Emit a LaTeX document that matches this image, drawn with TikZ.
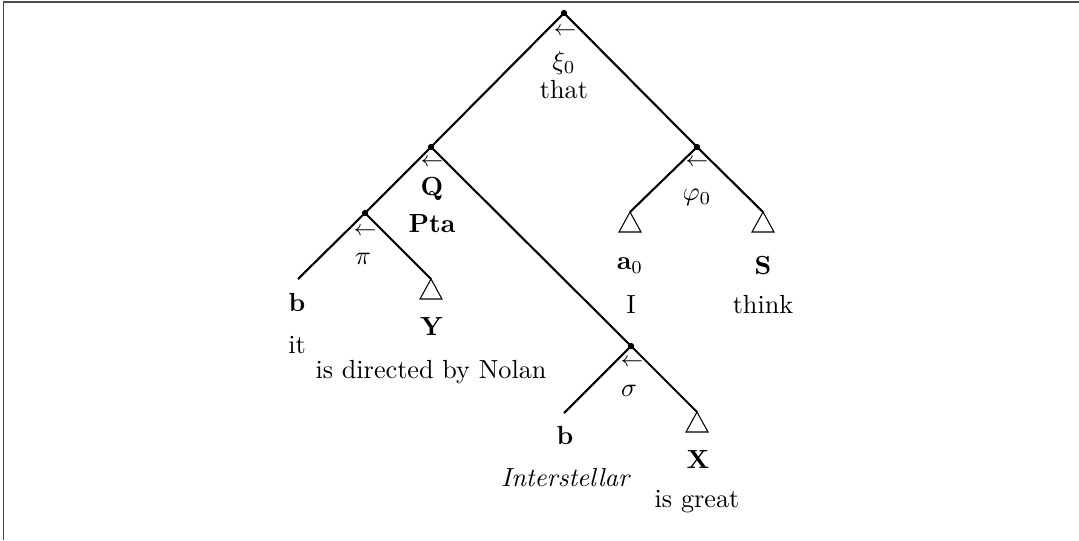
\documentclass[tikz,border=0pt]{standalone}
\usepackage{amsmath,amssymb}
\begin{document}
\begin{tikzpicture}[x=0.3817pt,y=-0.3817pt,
  branch/.style={line width=0.8pt},
  dotnode/.style={circle,fill,inner sep=0pt,minimum size=2.4pt},
  lbl/.style={inner sep=0pt},
  arr/.style={inner sep=0pt,font=\fontsize{7.6}{9}\selectfont},
  tri/.style={line width=0.4pt}]
\useasboundingbox (0,0) rectangle (1079,540);
\draw[black!70, line width=0.6pt] (3.5,540) -- (3.5,2) -- (1079,2);
% tree points
\node[dotnode] (r) at (564,13) {};
\node[dotnode] (q) at (431,147) {};
\node[dotnode] (f) at (697,147) {};
\node[dotnode] (p) at (365,213) {};
\node[dotnode] (s) at (631,346) {};
\coordinate (b1) at (298,279);
\coordinate (y) at (431,279);
\coordinate (a0) at (630,212);
\coordinate (S) at (763,212);
\coordinate (b2) at (564,413);
\coordinate (x) at (697,412);
% branches
\draw[branch] (r.center) -- (q.center);
\draw[branch] (r.center) -- (f.center);
\draw[branch] (q.center) -- (p.center);
\draw[branch] (q.center) -- (s.center);
\draw[branch] (p.center) -- (b1);
\draw[branch] (p.center) -- (y);
\draw[branch] (f.center) -- (a0);
\draw[branch] (f.center) -- (S);
\draw[branch] (s.center) -- (b2);
\draw[branch] (s.center) -- (x);
% triangles
\draw[tri] (y) -- ++(-11,20) -- ++(22,0) -- cycle;
\draw[tri] (a0) -- ++(-11,20) -- ++(22,0) -- cycle;
\draw[tri] (S) -- ++(-11,20) -- ++(22,0) -- cycle;
\draw[tri] (x) -- ++(-11,20) -- ++(22,0) -- cycle;
% labels
\node[arr] (ra) at (565,32) {$\leftarrow$};
\node[lbl] (rl) at (564,63) {$\xi_0$};
\node[lbl] (rw) at (564,90) {that};
\node[arr] (qa) at (432,163) {$\leftarrow$};
\node[lbl] (ql) at (432,189) {$\mathbf{Q}$};
\node[lbl] (qw) at (432,224) {\textbf{Pta}};
\node[arr] (pa) at (365,232) {$\leftarrow$};
\node[lbl] (pl) at (363,259) {$\pi$};
\node[lbl] (b1l) at (297,302) {$\mathbf{b}$};
\node[lbl] (b1w) at (297,345) {it};
\node[lbl] (yl) at (432,326) {$\mathbf{Y}$};
\node[lbl] (yw) at (431,372) {is directed by Nolan};
\node[arr] (fa) at (697,163) {$\leftarrow$};
\node[lbl] (fl) at (697,197) {$\varphi_0$};
\node[lbl] (a0l) at (630,266) {$\mathbf{a}_0$};
\node[lbl] (a0w) at (631,305) {I};
\node[lbl] (Sl) at (763,265) {$\mathbf{S}$};
\node[lbl] (Sw) at (763,305) {think};
\node[arr] (sa) at (632,363) {$\leftarrow$};
\node[lbl] (sl) at (629,391) {$\sigma$};
\node[lbl] (b2l) at (565,435) {$\mathbf{b}$};
\node[lbl] (b2w) at (566,478) {\textit{Interstellar}};
\node[lbl] (xl) at (698,459) {$\mathbf{X}$};
\node[lbl] (xw) at (697,502) {is great};
\end{tikzpicture}
\end{document}
